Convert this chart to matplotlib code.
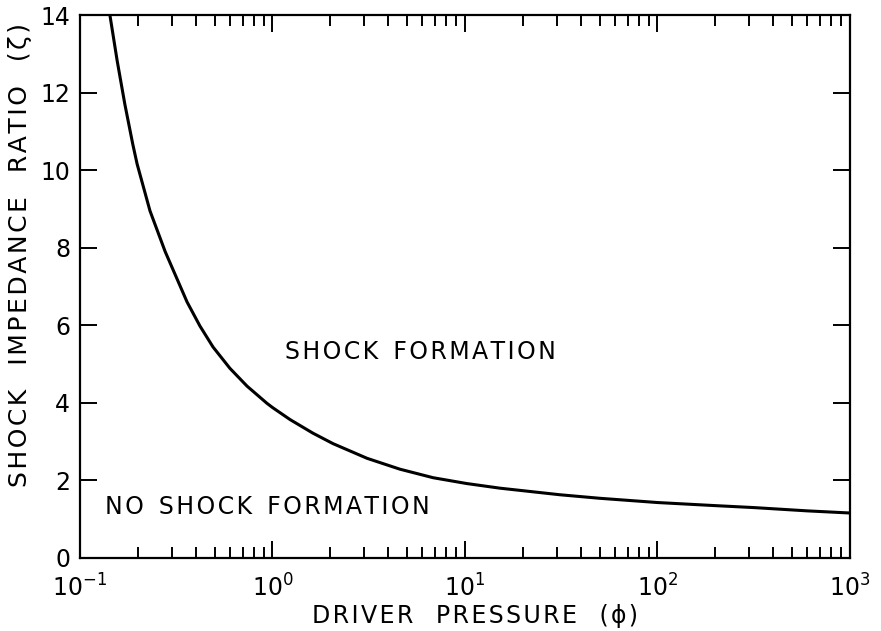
import numpy as np
import matplotlib
matplotlib.use("Agg")
import matplotlib.pyplot as plt
from matplotlib.ticker import LogLocator, NullFormatter

# curve: driver pressure (phi) vs shock impedance ratio (zeta)
phi = [0.143, 0.156, 0.171, 0.188, 0.198, 0.231, 0.277, 0.360, 0.420, 0.491,
       0.601, 0.738, 0.935, 1.0, 1.233, 1.62, 2.06, 3.10, 4.59, 6.83,
       10.2, 15.2, 31.2, 50, 100, 200, 316, 600, 1000]
zeta = [14.0, 12.82, 11.70, 10.67, 10.16, 8.95, 7.90, 6.60, 5.98, 5.44,
        4.89, 4.43, 3.99, 3.88, 3.57, 3.22, 2.95, 2.57, 2.29, 2.07,
        1.92, 1.80, 1.63, 1.54, 1.43, 1.35, 1.30, 1.215, 1.16]

yticks = [0, 2, 4, 6, 8, 10, 12, 14]


def spaced(s, gap=2, sep="\u200a"):
    # wide lettering: small space between letters, extra spaces between words
    words = s.split(" ")
    return (" " * gap).join(sep.join(w) for w in words)


fig = plt.figure(figsize=(8.81, 6.31), dpi=100)
ax = fig.add_axes([0.0908, 0.1157, 0.874, 0.8605])

ax.plot(phi, zeta, color="black", lw=2.2)

ax.set_xscale("log")
ax.set_xlim(0.1, 1000)
ax.set_ylim(0, 14)
ax.set_yticks(yticks)
ax.xaxis.set_major_locator(LogLocator(base=10, numticks=10))
ax.xaxis.set_minor_locator(LogLocator(base=10, subs=np.arange(2, 10), numticks=20))
ax.xaxis.set_minor_formatter(NullFormatter())

for s in ax.spines.values():
    s.set_linewidth(1.6)

ax.tick_params(which="both", direction="in", top=True, right=True, width=1.4,
               labelsize=17, colors="black")
ax.tick_params(which="major", length=12)
ax.tick_params(axis="x", which="major", pad=12)
ax.tick_params(axis="y", which="major", pad=7)
ax.tick_params(which="minor", length=8)

ax.set_xlabel(spaced("DRIVER PRESSURE (\u03d5)", 3), fontsize=17)
ax.xaxis.set_label_coords(0.513, -0.085)
ax.set_ylabel(spaced("SHOCK IMPEDANCE RATIO (\u03b6)", 3), fontsize=18)
ax.yaxis.set_label_coords(-0.062, 0.558)

ax.text(1.16, 5.31, spaced("SHOCK FORMATION"), fontsize=17, va="center", ha="left")
ax.text(0.135, 1.31, spaced("NO SHOCK FORMATION"), fontsize=17, va="center", ha="left")

fig.savefig("out.png", dpi=100)
